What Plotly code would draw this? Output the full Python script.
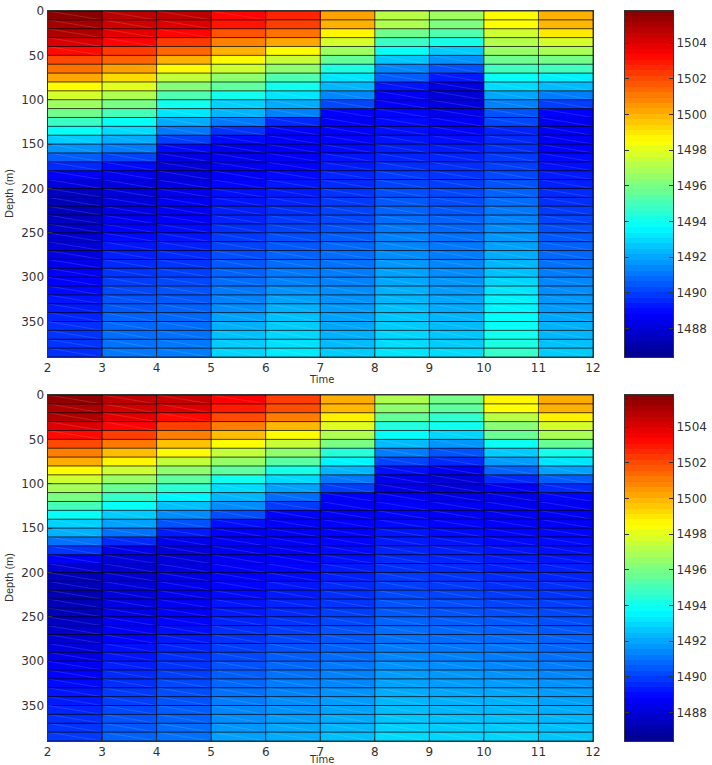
import plotly.graph_objects as go

# Sound speed (m/s) per depth bin, one list per time step, for the two runs.
upper_t2 = [1505.6, 1505.1, 1504.9, 1504.1, 1503.2, 1502.0, 1501.2, 1500.2, 1498.6, 1497.7, 1496.7, 1495.8, 1494.8, 1493.8, 1492.7, 1491.6, 1490.6, 1489.6, 1488.7, 1488.1, 1487.5, 1487.4, 1487.4, 1487.5, 1487.7, 1487.8, 1488.0, 1488.2, 1488.4, 1488.6, 1488.8, 1489.0, 1489.2, 1489.3, 1489.5, 1489.7, 1489.8, 1489.8, 1489.7]
upper_t3 = [1504.7, 1504.3, 1503.9, 1503.3, 1502.3, 1501.5, 1500.3, 1499.2, 1498.0, 1497.0, 1496.0, 1495.0, 1493.8, 1493.0, 1492.1, 1491.2, 1490.1, 1489.0, 1488.5, 1488.2, 1488.1, 1488.1, 1488.3, 1488.5, 1488.8, 1489.0, 1489.2, 1489.4, 1489.6, 1489.8, 1490.0, 1490.2, 1490.4, 1490.5, 1490.7, 1490.8, 1490.9, 1491.0, 1491.1]
upper_t4 = [1504.6, 1504.0, 1503.3, 1502.3, 1501.4, 1500.0, 1498.6, 1497.4, 1496.2, 1495.2, 1494.0, 1493.2, 1492.1, 1491.1, 1490.0, 1489.0, 1488.3, 1488.0, 1488.1, 1488.3, 1488.4, 1488.5, 1488.6, 1488.8, 1489.0, 1489.2, 1489.4, 1489.6, 1489.8, 1490.0, 1490.2, 1490.4, 1490.5, 1490.7, 1490.8, 1490.9, 1491.0, 1491.1, 1491.2]
upper_t5 = [1503.3, 1503.0, 1501.8, 1500.9, 1500.0, 1498.6, 1497.6, 1496.4, 1495.5, 1494.0, 1492.8, 1492.3, 1491.1, 1489.8, 1489.0, 1488.5, 1488.4, 1488.5, 1488.7, 1488.9, 1489.1, 1489.2, 1489.4, 1489.5, 1489.7, 1489.9, 1490.1, 1490.3, 1490.5, 1490.7, 1490.9, 1491.1, 1491.3, 1491.5, 1491.9, 1492.2, 1492.5, 1492.7, 1492.9]
upper_t6 = [1502.7, 1502.2, 1501.2, 1500.2, 1498.6, 1497.5, 1496.4, 1495.2, 1494.0, 1493.2, 1492.1, 1491.3, 1489.6, 1488.9, 1488.7, 1488.7, 1488.7, 1488.8, 1489.0, 1489.2, 1489.3, 1489.5, 1489.7, 1489.9, 1490.1, 1490.3, 1490.5, 1490.7, 1490.9, 1491.1, 1491.3, 1491.6, 1491.9, 1492.2, 1492.5, 1492.7, 1492.9, 1493.1, 1493.3]
upper_t7 = [1500.3, 1500.0, 1498.7, 1497.7, 1496.7, 1495.6, 1494.2, 1493.2, 1492.3, 1491.4, 1490.2, 1488.8, 1488.7, 1488.8, 1488.9, 1489.0, 1489.2, 1489.3, 1489.5, 1489.6, 1489.8, 1489.9, 1490.1, 1490.2, 1490.4, 1490.6, 1490.8, 1490.9, 1491.0, 1491.2, 1491.3, 1491.5, 1491.6, 1491.8, 1491.9, 1492.0, 1492.2, 1492.4, 1492.7]
upper_t8 = [1497.2, 1497.0, 1495.8, 1494.8, 1493.8, 1492.6, 1491.4, 1490.6, 1489.2, 1488.6, 1488.7, 1488.9, 1489.0, 1489.1, 1489.2, 1489.4, 1489.5, 1489.7, 1489.9, 1490.1, 1490.3, 1490.5, 1490.7, 1490.9, 1491.1, 1491.3, 1491.4, 1491.5, 1491.7, 1491.9, 1492.0, 1492.2, 1492.3, 1492.5, 1492.6, 1492.7, 1492.9, 1493.0, 1493.2]
upper_t9 = [1496.7, 1496.1, 1495.2, 1494.1, 1492.7, 1491.6, 1490.4, 1489.3, 1488.2, 1488.0, 1488.2, 1488.4, 1488.7, 1488.9, 1489.1, 1489.3, 1489.5, 1489.7, 1489.8, 1490.0, 1490.2, 1490.3, 1490.5, 1490.7, 1490.8, 1491.0, 1491.1, 1491.2, 1491.4, 1491.5, 1491.7, 1491.8, 1492.0, 1492.1, 1492.3, 1492.4, 1492.6, 1492.7, 1493.0]
upper_t10 = [1498.6, 1498.5, 1497.6, 1497.1, 1496.6, 1495.8, 1494.9, 1493.8, 1493.0, 1492.0, 1491.3, 1490.4, 1490.2, 1489.5, 1489.6, 1489.7, 1489.9, 1490.0, 1490.2, 1490.4, 1490.7, 1490.9, 1491.1, 1491.3, 1491.5, 1491.7, 1491.9, 1492.1, 1492.3, 1492.5, 1492.9, 1493.2, 1493.4, 1493.5, 1493.7, 1493.8, 1494.0, 1494.2, 1494.7]
upper_t11 = [1500.0, 1499.9, 1498.9, 1497.7, 1496.9, 1495.9, 1494.9, 1493.4, 1492.4, 1491.2, 1490.0, 1488.8, 1488.5, 1488.6, 1488.7, 1488.8, 1489.0, 1489.1, 1489.3, 1489.4, 1489.6, 1489.7, 1489.9, 1490.1, 1490.3, 1490.5, 1490.7, 1490.8, 1491.0, 1491.2, 1491.4, 1491.5, 1491.7, 1491.8, 1492.0, 1492.2, 1492.3, 1492.5, 1492.7]

lower_t2 = [1505.5, 1505.0, 1504.9, 1504.0, 1503.2, 1502.0, 1501.0, 1500.1, 1498.6, 1497.6, 1496.8, 1496.0, 1495.0, 1493.8, 1492.8, 1492.2, 1491.0, 1489.8, 1488.7, 1487.9, 1487.4, 1487.3, 1487.2, 1487.3, 1487.4, 1487.5, 1487.7, 1487.9, 1488.1, 1488.3, 1488.6, 1488.8, 1489.0, 1489.2, 1489.3, 1489.5, 1489.7, 1489.8, 1489.9]
lower_t3 = [1504.6, 1504.3, 1503.9, 1503.3, 1502.2, 1501.1, 1499.8, 1498.7, 1497.6, 1496.6, 1495.7, 1494.7, 1493.8, 1492.7, 1491.9, 1491.0, 1489.6, 1488.4, 1488.0, 1487.9, 1487.9, 1488.0, 1488.1, 1488.2, 1488.3, 1488.5, 1488.7, 1488.9, 1489.1, 1489.2, 1489.4, 1489.6, 1489.7, 1489.9, 1490.0, 1490.2, 1490.4, 1490.5, 1490.7]
lower_t4 = [1504.4, 1504.0, 1503.2, 1502.2, 1501.0, 1499.7, 1498.6, 1497.4, 1496.4, 1495.5, 1494.5, 1493.5, 1492.5, 1491.5, 1490.4, 1489.3, 1488.4, 1488.1, 1488.1, 1488.2, 1488.3, 1488.4, 1488.5, 1488.6, 1488.7, 1488.9, 1489.1, 1489.3, 1489.5, 1489.7, 1489.8, 1490.0, 1490.2, 1490.3, 1490.4, 1490.6, 1490.7, 1490.9, 1491.0]
lower_t5 = [1503.4, 1502.9, 1502.0, 1501.0, 1499.8, 1498.5, 1497.4, 1496.5, 1495.5, 1494.0, 1493.0, 1492.3, 1491.5, 1490.3, 1489.1, 1488.7, 1488.5, 1488.5, 1488.6, 1488.7, 1488.8, 1488.9, 1489.0, 1489.2, 1489.3, 1489.5, 1489.7, 1489.8, 1490.0, 1490.2, 1490.4, 1490.6, 1490.8, 1491.0, 1491.2, 1491.4, 1491.5, 1491.7, 1491.9]
lower_t6 = [1502.2, 1501.9, 1501.0, 1499.9, 1498.6, 1497.5, 1496.4, 1495.4, 1494.1, 1493.0, 1491.9, 1490.9, 1489.9, 1488.9, 1488.7, 1488.6, 1488.7, 1488.7, 1488.8, 1488.9, 1489.0, 1489.2, 1489.3, 1489.5, 1489.6, 1489.8, 1490.0, 1490.2, 1490.4, 1490.6, 1490.8, 1491.0, 1491.2, 1491.3, 1491.5, 1491.6, 1491.8, 1492.0, 1492.1]
lower_t7 = [1500.1, 1499.9, 1498.8, 1497.9, 1497.0, 1496.0, 1494.4, 1493.5, 1492.3, 1491.1, 1490.0, 1488.8, 1488.7, 1488.7, 1488.8, 1488.8, 1488.9, 1489.0, 1489.1, 1489.3, 1489.4, 1489.6, 1489.7, 1489.8, 1490.0, 1490.2, 1490.4, 1490.5, 1490.7, 1490.9, 1491.1, 1491.3, 1491.4, 1491.6, 1491.8, 1491.9, 1492.1, 1492.3, 1492.5]
lower_t8 = [1497.0, 1496.4, 1495.6, 1494.3, 1493.7, 1492.4, 1491.2, 1490.1, 1489.1, 1488.4, 1488.3, 1488.6, 1488.8, 1488.9, 1489.0, 1489.2, 1489.3, 1489.5, 1489.6, 1489.7, 1489.9, 1490.0, 1490.2, 1490.4, 1490.5, 1490.7, 1490.9, 1491.0, 1491.2, 1491.4, 1491.6, 1491.8, 1491.9, 1492.1, 1492.3, 1492.4, 1492.6, 1492.8, 1493.0]
lower_t9 = [1495.9, 1495.5, 1494.6, 1494.0, 1492.9, 1491.7, 1490.4, 1489.6, 1488.5, 1488.0, 1488.1, 1488.3, 1488.5, 1488.7, 1488.9, 1489.0, 1489.2, 1489.4, 1489.5, 1489.6, 1489.8, 1489.9, 1490.1, 1490.3, 1490.4, 1490.6, 1490.8, 1490.9, 1491.1, 1491.3, 1491.5, 1491.7, 1491.8, 1492.0, 1492.2, 1492.3, 1492.5, 1492.7, 1492.9]
lower_t10 = [1498.7, 1498.5, 1497.2, 1496.3, 1495.7, 1493.9, 1492.7, 1491.8, 1490.7, 1489.6, 1488.7, 1488.4, 1488.5, 1488.6, 1488.7, 1488.9, 1489.0, 1489.2, 1489.3, 1489.4, 1489.6, 1489.7, 1489.9, 1490.1, 1490.3, 1490.5, 1490.7, 1490.9, 1491.1, 1491.2, 1491.4, 1491.6, 1491.8, 1492.0, 1492.2, 1492.3, 1492.5, 1492.7, 1492.9]
lower_t11 = [1500.1, 1500.0, 1498.8, 1497.7, 1496.9, 1495.7, 1494.1, 1493.2, 1491.9, 1490.6, 1489.6, 1488.9, 1488.6, 1488.6, 1488.7, 1488.9, 1489.0, 1489.1, 1489.2, 1489.4, 1489.5, 1489.7, 1489.8, 1490.0, 1490.2, 1490.3, 1490.5, 1490.7, 1490.8, 1491.0, 1491.2, 1491.4, 1491.6, 1491.8, 1491.9, 1492.1, 1492.3, 1492.5, 1492.6]

upper_columns = [upper_t2, upper_t3, upper_t4, upper_t5, upper_t6, upper_t7, upper_t8, upper_t9, upper_t10, upper_t11]
lower_columns = [lower_t2, lower_t3, lower_t4, lower_t5, lower_t6, lower_t7, lower_t8, lower_t9, lower_t10, lower_t11]

time_edges = [2, 3, 4, 5, 6, 7, 8, 9, 10, 11, 12]
depth_edges = list(range(0, 400, 10))
depth_ticks = [0, 50, 100, 150, 200, 250, 300, 350]
speed_ticks = [1488, 1490, 1492, 1494, 1496, 1498, 1500, 1502, 1504]
speed_min = 1486.4
speed_max = 1505.8

jet = [
    [0.0, "rgb(0,0,140)"],
    [0.125, "rgb(0,0,255)"],
    [0.375, "rgb(0,255,255)"],
    [0.625, "rgb(255,255,0)"],
    [0.875, "rgb(255,0,0)"],
    [1.0, "rgb(128,0,0)"],
]

WIDTH, HEIGHT = 712, 765
AXIS_COLOR = "#333333"
TICK_FONT = dict(family="DejaVu Sans", size=12, color="#333333")
PANEL_LEFT, PANEL_RIGHT = 47.5, 593
BAR_LEFT, BAR_RIGHT = 625, 673
PANELS = [(11, 357), (395, 741)]
TIME_LABEL_Y = [379, 759.5]


def vertical_domain(top, bottom):
    return [1 - bottom / HEIGHT, 1 - top / HEIGHT]


def mesh_path():
    # Cell outlines of the pseudocolour mesh.
    xs, ys = [], []
    for d in depth_edges:
        xs += [time_edges[0], time_edges[-1], None]
        ys += [d, d, None]
    for t in time_edges:
        xs += [t, t, None]
        ys += [depth_edges[0], depth_edges[-1], None]
    return xs, ys


def seam_path(columns):
    # Hairline seam across each quad, visible against the blues and deep reds.
    xs, ys = [], []
    for i, col in enumerate(columns):
        for j, v in enumerate(col):
            if v < 1493.6 or v > 1503.0:
                xs += [time_edges[i], time_edges[i + 1], None]
                ys += [depth_edges[j], depth_edges[j + 1], None]
    return xs, ys


fig = go.Figure()
layout = dict(
    width=WIDTH,
    height=HEIGHT,
    autosize=False,
    margin=dict(l=0, r=0, t=0, b=0, pad=0, autoexpand=False),
    paper_bgcolor="white",
    plot_bgcolor="white",
    showlegend=False,
)

levels = [speed_min + (speed_max - speed_min) * k / 64 for k in range(65)]
level_mid = [[(levels[k] + levels[k + 1]) / 2] for k in range(64)]

annotations = []
for n, (columns, (top, bottom)) in enumerate(zip([upper_columns, lower_columns], PANELS)):
    a = 2 * n + 1
    b = 2 * n + 2
    xa, ya = ("x", "y") if a == 1 else (f"x{a}", f"y{a}")
    xb, yb = f"x{b}", f"y{b}"
    rows = [[col[j] for col in columns] for j in range(len(depth_edges) - 1)]
    fig.add_trace(go.Heatmap(
        x=time_edges, y=depth_edges, z=rows, xaxis=xa, yaxis=ya,
        colorscale=jet, zmin=speed_min, zmax=speed_max, showscale=False,
        hoverongaps=False,
    ))
    sx, sy = seam_path(columns)
    fig.add_trace(go.Scatter(
        x=sx, y=sy, xaxis=xa, yaxis=ya, mode="lines",
        line=dict(color="rgba(255,255,255,0.18)", width=0.7), hoverinfo="skip",
    ))
    mx, my = mesh_path()
    fig.add_trace(go.Scatter(
        x=mx, y=my, xaxis=xa, yaxis=ya, mode="lines",
        line=dict(color="rgba(0,0,0,0.72)", width=1), hoverinfo="skip",
    ))
    # Colour key drawn as its own narrow axes so ticks sit on both edges.
    fig.add_trace(go.Heatmap(
        x=[0, 1], y=levels, z=level_mid, xaxis=xb, yaxis=yb,
        colorscale=jet, zmin=speed_min, zmax=speed_max, showscale=False,
    ))
    suffix_a = "" if a == 1 else str(a)
    layout[f"xaxis{suffix_a}"] = dict(
        domain=[PANEL_LEFT / WIDTH, PANEL_RIGHT / WIDTH], range=[2, 12], anchor=ya,
        tickvals=time_edges, ticks="inside", ticklen=4, tickcolor=AXIS_COLOR,
        showline=True, mirror=True, linecolor=AXIS_COLOR, linewidth=1,
        showgrid=False, zeroline=False, tickfont=TICK_FONT,
    )
    layout[f"yaxis{suffix_a}"] = dict(
        domain=vertical_domain(top, bottom), range=[390, 0], anchor=xa,
        tickvals=depth_ticks, ticks="inside", ticklen=4, tickcolor=AXIS_COLOR,
        showline=True, mirror=True, linecolor=AXIS_COLOR, linewidth=1,
        showgrid=False, zeroline=False, tickfont=TICK_FONT,
    )
    layout[f"xaxis{b}"] = dict(
        domain=[BAR_LEFT / WIDTH, BAR_RIGHT / WIDTH], range=[0, 1], anchor=yb,
        showticklabels=False, ticks="", showline=True, mirror=True,
        linecolor=AXIS_COLOR, linewidth=1, showgrid=False, zeroline=False,
    )
    layout[f"yaxis{b}"] = dict(
        domain=vertical_domain(top, bottom), range=[speed_min, speed_max], anchor=xb,
        side="right", tickvals=speed_ticks, ticks="inside", ticklen=4,
        tickcolor=AXIS_COLOR, showline=True, mirror="ticks", linecolor=AXIS_COLOR,
        linewidth=1, showgrid=False, zeroline=False, tickfont=TICK_FONT,
    )
    annotations.append(dict(
        text="Time", xref="paper", yref="paper", showarrow=False, borderpad=0,
        x=321 / WIDTH, y=1 - TIME_LABEL_Y[n] / HEIGHT, xanchor="center", yanchor="middle",
        font=dict(family="DejaVu Sans", size=10, color="#333333"),
    ))
    annotations.append(dict(
        text="Depth (m)", xref="paper", yref="paper", showarrow=False, textangle=-90,
        x=9 / WIDTH, y=1 - (top + 183) / HEIGHT, xanchor="center", yanchor="middle",
        font=dict(family="Liberation Sans Narrow, Liberation Sans", size=11, color="#333333"),
    ))

layout["annotations"] = annotations
fig.update_layout(**layout)
fig.write_html("out.html")
